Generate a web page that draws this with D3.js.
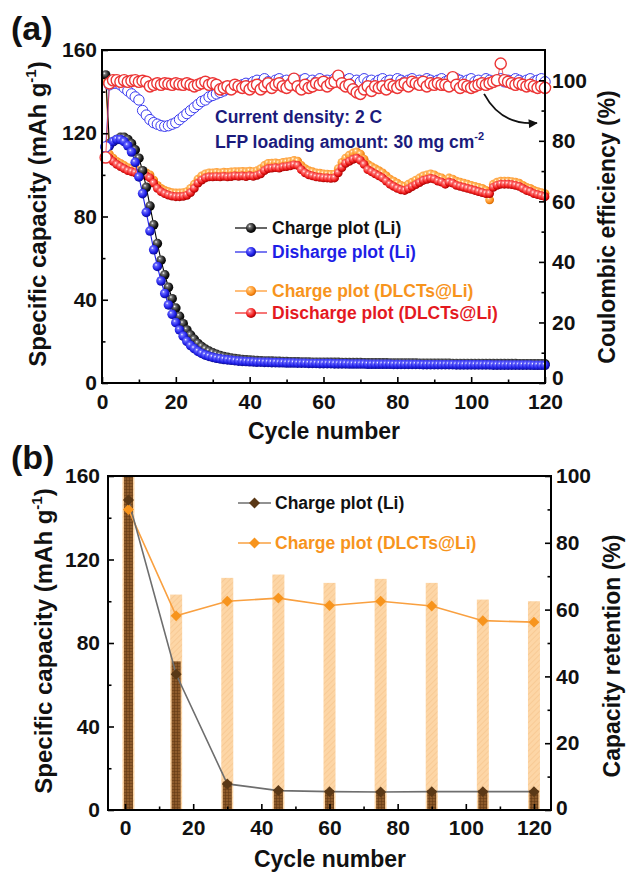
<!DOCTYPE html>
<html><head><meta charset="utf-8">
<script src="https://cdn.jsdelivr.net/npm/d3@7"></script>
<style>
html,body{margin:0;padding:0;background:#fff;}
svg{display:block;}
</style></head><body>
<svg id="chart" width="626" height="874"></svg>
<script>
// ---------------- DATA ----------------
const cycles = d3.range(1, 121);

const liCharge = [148,115,116,117,118,118,117,115,112,108,
102,94,85,76,67,59,52,46,40.5,36,
32,28.5,25.5,23,21,19,17.5,16.3,15.3,14.5,
13.8,13.2,12.7,12.3,12,11.7,11.5,11.3,11.1,11,
10.9,10.8,10.7,10.6,10.5,10.5,10.4,10.4,10.3,10.3,
10.2,10.2,10.2,10.1,10.1,10.1,10,10,10,10,
9.9,9.9,9.9,9.9,9.8,9.8,9.8,9.8,9.8,9.8,
9.7,9.7,9.7,9.7,9.7,9.7,9.7,9.6,9.6,9.6,
9.6,9.6,9.6,9.6,9.6,9.5,9.5,9.5,9.5,9.5,
9.5,9.5,9.5,9.5,9.4,9.4,9.4,9.4,9.4,9.4,
9.4,9.4,9.4,9.3,9.3,9.3,9.3,9.3,9.3,9.3,
9.3,9.3,9.2,9.2,9.2,9.2,9.2,9.2,9.2,9.2];

const liDischarge = [113,114,116,117,117,116,114,111,106,99,
91,82,73,64,56,49,43,37.5,33,29,
25.5,22.5,20,18,16.5,15.2,14.2,13.4,12.8,12.3,
11.9,11.6,11.3,11.1,10.9,10.7,10.5,10.4,10.3,10.2,
10.1,10,10,9.9,9.9,9.8,9.8,9.7,9.7,9.6,
9.6,9.6,9.5,9.5,9.5,9.4,9.4,9.4,9.3,9.3,
9.3,9.3,9.2,9.2,9.2,9.2,9.1,9.1,9.1,9.1,
9.1,9,9,9,9,9,9,9,8.9,8.9,
8.9,8.9,8.9,8.9,8.9,8.9,8.8,8.8,8.8,8.8,
8.8,8.8,8.8,8.8,8.8,8.7,8.7,8.7,8.7,8.7,
8.7,8.7,8.7,8.7,8.7,8.6,8.6,8.6,8.6,8.6,
8.6,8.6,8.6,8.6,8.6,8.6,8.5,8.5,8.5,8.5];

const dlCharge = [145,110,108,106.5,105.5,104.5,103.5,103,102.5,102,
101.5,101,100,97.5,95,93.5,92.5,92,91.5,91.3,
91.3,91.5,92,93.5,95.5,98,99.5,100.5,101,101,
101.2,101,101.3,101.2,101.4,101.6,101.5,101.7,101.5,101.8,
101.6,102,103,104.5,105.5,105.6,105.8,105.5,106,106.2,
106.5,107,106.6,104.5,103,102,101.5,101,100.8,100.5,
100.4,100.2,100.4,103,106,108,109.5,110.5,111,110,
107.5,105,104,103,102,101,99.5,98,97,96,
95,94.5,95.5,96.5,97.5,98.5,99.5,100,100.5,100,
99,98.5,97.5,98.5,98,97,96.5,96,95.5,95,
94.5,94,93.5,92.5,88,95.5,96.5,97,97,97,
96.8,96.5,96,95,94,93.5,92.5,92,91.5,91];

const dlDischarge = [108,108,106.5,105,104,103,102,101.5,101,100.5,
100,99.5,98.5,96,93.5,92,91,90.3,89.8,89.5,
89.5,89.7,90.2,91.5,93.5,96,97.5,98.5,99,99,
99.2,99,99.3,99,99.2,99.5,99.3,99.5,99.2,99.6,
99.3,99.8,100.5,102,103,103.2,103.5,103.2,103.8,104,
104.3,104.8,104.5,102.5,101,100,99.5,99,98.8,98.6,
98.5,98.3,98.5,101,103.5,105.5,106.5,107.5,108,107,
105,102.5,101.5,100.5,99.5,98.5,97,95.5,94.5,93.5,
92.8,92.5,93.3,94.3,95.3,96.3,97.3,97.8,98.3,98,
97,96.5,95.5,96.5,96,95,94.5,94,93.5,93,
92.5,92,91.5,91,91,94,95,95.5,95.5,95.5,
95.3,95,94.5,93.5,92.5,92,91,90.5,90,89.5];

const ceLi = [78,98.5,99,99,98.5,97.5,96.5,95.5,94.5,93.5,
90,88.5,87,86,85.5,85,84.8,85,85.5,86,
87,88,89,90,91,92,93,93.5,94.5,95,
95.5,96,96.5,97,97.5,98,98,98.5,99,98.5,
99.5,100,99,100.5,99.5,99,100,100.5,99.5,100,
99,100.5,99.5,100,100.5,99,100,99.5,100.5,99.5,
100,99,100.5,100,99.5,100,100.5,99,100,99.5,
100.5,99.5,100,99,100,100.5,99.5,100,99,100.5,
100,99.5,100,100.5,99,100,99.5,100.5,100,99.5,
100,100.5,99.5,100,99,100.5,100,99.5,100,100.5,
99.5,100,99,100.5,100,99.5,100,100.5,99.5,100,
99,100.5,100,99.5,100,100.5,99.5,100,100.5,99.5];

const ceDl = [74.5,99,100,100,99.5,100,99.5,99.8,100,99.5,
99.8,99.5,98,98.5,99,98.5,99,98.8,98.5,99,
98.7,98.5,99,98.5,98,98.5,99,99.5,98.5,99,
98.5,97,97.5,98,97,98.5,98,97.5,98,97,
98,98.5,97,98,99,97.5,98.5,99,98,97.5,
98.5,100.5,98,97,98.5,97.5,98,99,98.5,99.5,
98,99,99.5,101.5,99,98,98.5,97,96,95.5,
97,98,96.5,98,97.5,98,97,98.5,98,97.5,
98.5,99,98,99.5,99,98.5,99.5,98,99,98.5,
99,98.5,98.5,98,101,98.5,97.5,98.5,98,97.5,
98,98.5,99,98.5,99,99.5,100,105.5,100,99.5,
99,98.5,99,98.5,98,98.5,98,97.5,98,97.5];

const xTicks = [0,20,40,60,80,100,120];
const yTicksA = [0,40,80,120,160];
const yRTicksA = [0,20,40,60,80,100];

const legendA = ["Charge plot (Li)", "Disharge plot (Li)", "Charge plot (DLCTs@Li)", "Discharge plot (DLCTs@Li)"];

// panel (b)
const bCycles = [1,15,30,45,60,75,90,105,120];
const bLiCharge = [148.5,65,12.5,9.3,8.8,8.6,8.8,8.8,8.8];
const bDlCharge = [144,93,100,101.5,98,100,97.7,90.7,90];
const bDlRetention = [100,64.5,69.5,70.5,68,69.2,68,63,62.5];
const bLiRetention = [100,44.5,8.5,6.3,6,5.8,6,6,6];
const yTicksB = [0,40,80,120,160];
const yRTicksB = [0,20,40,60,80,100];
const legendB = ["Charge plot (Li)", "Charge plot (DLCTs@Li)"];

// ---------------- DRAW ----------------
const FONT = "'Liberation Sans', Arial, Helvetica, sans-serif";
const svg = d3.select("#chart").attr("font-family", FONT).attr("font-weight", "bold");
const defs = svg.append("defs");

function sphereGrad(id, light, mid, dark) {
  const g = defs.append("radialGradient").attr("id", id)
    .attr("cx", "40%").attr("cy", "38%").attr("r", "62%").attr("fx", "36%").attr("fy", "32%");
  g.append("stop").attr("offset", "0%").attr("stop-color", "#ffffff");
  g.append("stop").attr("offset", "22%").attr("stop-color", light);
  g.append("stop").attr("offset", "70%").attr("stop-color", mid);
  g.append("stop").attr("offset", "100%").attr("stop-color", dark);
}
sphereGrad("gBlack", "#777", "#1a1a1a", "#000");
sphereGrad("gBlue", "#6a6aff", "#1f1fe8", "#0a0a8a");
sphereGrad("gOrange", "#ffc070", "#ff9322", "#d66a00");
sphereGrad("gRed", "#ff8080", "#f01c1c", "#a80000");

// hatch patterns for panel (b)
const pp = defs.append("pattern").attr("id", "hPeach").attr("patternUnits", "userSpaceOnUse")
  .attr("width", 4).attr("height", 4).attr("patternTransform", "rotate(45)");
pp.append("rect").attr("width", 4).attr("height", 4).attr("fill", "#fdd6a6");
pp.append("line").attr("x1", 0).attr("y1", 0).attr("x2", 0).attr("y2", 4).attr("stroke", "#f5c28a").attr("stroke-width", 1.2);
const pd = defs.append("pattern").attr("id", "hDark").attr("patternUnits", "userSpaceOnUse")
  .attr("width", 3).attr("height", 3);
pd.append("rect").attr("width", 3).attr("height", 3).attr("fill", "#8d5a2a");
pd.append("path").attr("d", "M0,0H3M0,0V3").attr("stroke", "#5e3512").attr("stroke-width", 1);

defs.append("marker").attr("id", "arrowHead").attr("viewBox", "0 0 10 10")
  .attr("refX", 9).attr("refY", 5).attr("markerWidth", 11).attr("markerHeight", 9)
  .attr("markerUnits", "userSpaceOnUse").attr("orient", "auto")
  .append("path").attr("d", "M0,0L10,5L0,10Z").attr("fill", "#111");

function styleAxis(a, fs) {
  a.select(".domain").remove();
  a.attr("font-family", FONT).attr("font-size", fs).attr("font-weight", "bold");
  a.selectAll(".tick line").attr("stroke", "#000").attr("stroke-width", 1.6);
  a.selectAll(".tick text").attr("fill", "#111");
  return a;
}

function frameAndAxes(g, box, x, yL, yR, o) {
  const fs = 21;
  styleAxis(g.append("g").attr("transform", `translate(0,${box.b})`)
    .call(d3.axisBottom(x).tickValues(o.xMajor).tickSize(-6).tickPadding(o.padX).tickFormat(d3.format("d"))), fs);
  styleAxis(g.append("g").attr("transform", `translate(0,${box.b})`)
    .call(d3.axisBottom(x).tickValues(o.xMinor).tickSize(-3.5).tickFormat("")), fs);
  styleAxis(g.append("g").attr("transform", `translate(${box.l},0)`)
    .call(d3.axisLeft(yL).tickValues(o.yMajor).tickSize(-6).tickPadding(o.padL).tickFormat(d3.format("d"))), fs);
  styleAxis(g.append("g").attr("transform", `translate(${box.l},0)`)
    .call(d3.axisLeft(yL).tickValues(o.yMinor).tickSize(-3.5).tickFormat("")), fs);
  const ra = styleAxis(g.append("g").attr("transform", `translate(${box.r},0)`)
    .call(d3.axisRight(yR).tickValues(o.yRMajor).tickSize(-6).tickPadding(o.padR).tickFormat(d3.format("d"))), fs);
  // the bottom "0" of the right axis sits just above the last x label
  ra.selectAll(".tick text").filter(d => d === 0).attr("dy", o.zeroDy);
  styleAxis(g.append("g").attr("transform", `translate(${box.r},0)`)
    .call(d3.axisRight(yR).tickValues(o.yRMinor).tickSize(-3.5).tickFormat("")), fs);
  g.append("rect").attr("x", box.l).attr("y", box.t).attr("width", box.r - box.l).attr("height", box.b - box.t)
    .attr("fill", "none").attr("stroke", "#000").attr("stroke-width", 2);
}

function yTitle(g, x, y, fs, parts) {
  const t = g.append("text").attr("transform", `translate(${x},${y}) rotate(-90)`)
    .attr("text-anchor", "middle").attr("font-size", fs).attr("fill", "#111");
  parts(t);
}
const capTitle = t => {
  t.append("tspan").text("Specific capacity (mAh g");
  t.append("tspan").attr("dy", -10).attr("font-size", 15).text("-1");
  t.append("tspan").attr("dy", 10).text(")");
};

// ======== Panel (a) ========
const A = {l: 102, r: 545, t: 50, b: 383};
const xA = d3.scaleLinear().domain([0, 120]).range([A.l, A.r]);
const yA = d3.scaleLinear().domain([0, 160]).range([A.b, A.t]);
const yAR = d3.scaleLinear().domain([0, 110]).range([A.b, A.t]);
const gA = svg.append("g");

const pts = arr => arr.map((v, i) => ({c: cycles[i], v}));
const lineA = d3.line().x(d => xA(d.c)).y(d => yA(d.v));
const lineAR = d3.line().x(d => xA(d.c)).y(d => yAR(d.v));

function sphereSeries(data, lineColor, grad, r) {
  const p = pts(data);
  gA.append("path").attr("d", lineA(p)).attr("fill", "none").attr("stroke", lineColor).attr("stroke-width", 1.1);
  gA.append("g").selectAll("circle").data(p).join("circle")
    .attr("cx", d => xA(d.c)).attr("cy", d => yA(d.v)).attr("r", r).attr("fill", `url(#${grad})`);
}
sphereSeries(dlCharge, "#ff9322", "gOrange", 4.4);
sphereSeries(dlDischarge, "#f01c1c", "gRed", 4.4);
sphereSeries(liCharge, "#000", "gBlack", 4.8);
sphereSeries(liDischarge, "#1f1fe8", "gBlue", 4.8);

function ceSeries(data, color, r, sw) {
  const p = pts(data);
  gA.append("path").attr("d", lineAR(p)).attr("fill", "none").attr("stroke", color).attr("stroke-width", 0.8);
  gA.append("g").selectAll("circle").data(p).join("circle")
    .attr("cx", d => xA(d.c)).attr("cy", d => yAR(d.v)).attr("r", r)
    .attr("fill", "#fff").attr("stroke", color).attr("stroke-width", sw);
}
ceSeries(ceLi, "#3a3af0", 5.2, 1);
ceSeries(ceDl, "#ec3535", 5.6, 1.4);

frameAndAxes(gA, A, xA, yA, yAR, {
  xMajor: xTicks, xMinor: [10,30,50,70,90,110], padX: 11,
  yMajor: yTicksA, yMinor: [20,60,100,140], padL: 5,
  yRMajor: yRTicksA, yRMinor: [10,30,50,70,90], padR: 7, zeroDy: "0.05em"
});

// annotation
const navy = "#1b1b7c";
gA.append("text").attr("x", 215).attr("y", 123).attr("font-size", 17.5).attr("fill", navy).text("Current density: 2 C");
const ann2 = gA.append("text").attr("x", 215).attr("y", 148).attr("font-size", 17.5).attr("fill", navy);
ann2.append("tspan").text("LFP loading amount: 30 mg cm");
ann2.append("tspan").attr("dy", -8).attr("font-size", 11).text("-2");

const arrowPath = d3.path();
arrowPath.moveTo(xA(103.5), yAR(95.5));
arrowPath.quadraticCurveTo(xA(108.2), yAR(84.9), xA(117.8), yAR(85.9));
gA.append("path").attr("d", arrowPath.toString()).attr("fill", "none").attr("stroke", "#111")
  .attr("stroke-width", 1.8).attr("marker-end", "url(#arrowHead)");

// legend (a)
const legAColors = ["#111", "#1e1ee6", "#f7941d", "#e4191f"];
const legALine = ["#000", "#1f1fe8", "#ff9322", "#f01c1c"];
const legAGrad = ["gBlack", "gBlue", "gOrange", "gRed"];
const legAY = [228, 252, 291, 313];
legendA.forEach((lab, i) => {
  const y = legAY[i];
  gA.append("line").attr("x1", 235).attr("x2", 267).attr("y1", y).attr("y2", y).attr("stroke", legALine[i]).attr("stroke-width", 1.2);
  gA.append("circle").attr("cx", 251).attr("cy", y).attr("r", 5).attr("fill", `url(#${legAGrad[i]})`);
  gA.append("text").attr("x", 272).attr("y", y).attr("dy", "0.36em").attr("font-size", 17.5).attr("fill", legAColors[i]).text(lab);
});

// titles (a)
svg.append("text").attr("x", 11).attr("y", 40).attr("font-size", 34).attr("fill", "#111").text("(a)");
yTitle(gA, 46, 214, 24, capTitle);
yTitle(gA, 615, 227, 23, t => t.text("Coulombic efficiency (%)"));
gA.append("text").attr("x", 324).attr("y", 439).attr("text-anchor", "middle").attr("font-size", 23).attr("fill", "#111").text("Cycle number");

// ======== Panel (b) ========
const B = {l: 108, r: 551, t: 476, b: 810};
const xB = d3.scaleLinear().domain([-5, 125]).range([B.l, B.r]);
const yB = d3.scaleLinear().domain([0, 160]).range([B.b, B.t]);
const yBR = d3.scaleLinear().domain([0, 100]).range([B.b, B.t]);
const gB = svg.append("g");

const bDl = bCycles.map((c, i) => ({c, v: bDlCharge[i], r: bDlRetention[i]}));
const bLi = bCycles.map((c, i) => ({c, v: bLiCharge[i], r: bLiRetention[i]}));

gB.append("g").selectAll("rect").data(bDl).join("rect")
  .attr("x", d => xB(d.c) - 6).attr("width", 12)
  .attr("y", d => yBR(d.r)).attr("height", d => yBR(0) - yBR(d.r)).attr("fill", "url(#hPeach)");
gB.append("g").selectAll("rect").data(bLi).join("rect")
  .attr("x", d => xB(d.c) - 4.5).attr("width", 9)
  .attr("y", d => yBR(d.r)).attr("height", d => yBR(0) - yBR(d.r)).attr("fill", "url(#hDark)");

const lineB = d3.line().x(d => xB(d.c)).y(d => yB(d.v));
gB.append("path").attr("d", lineB(bDl)).attr("fill", "none").attr("stroke", "#f9a040").attr("stroke-width", 1.6);
gB.append("path").attr("d", lineB(bLi)).attr("fill", "none").attr("stroke", "#6e6e6e").attr("stroke-width", 1.6);

const diamond = d3.symbol().type(d3.symbolSquare).size(60);
gB.append("g").selectAll("path").data(bDl).join("path")
  .attr("transform", d => `translate(${xB(d.c)},${yB(d.v)}) rotate(45)`).attr("d", diamond).attr("fill", "#f7941d");
gB.append("g").selectAll("path").data(bLi).join("path")
  .attr("transform", d => `translate(${xB(d.c)},${yB(d.v)}) rotate(45)`).attr("d", diamond).attr("fill", "#5a3816");

frameAndAxes(gB, B, xB, yB, yBR, {
  xMajor: xTicks, xMinor: [10,30,50,70,90,110], padX: 10,
  yMajor: yTicksB, yMinor: [20,60,100,140], padL: 8,
  yRMajor: yRTicksB, yRMinor: [10,30,50,70,90], padR: 5, zeroDy: "0.2em"
});

// legend (b)
const legBText = ["#111", "#f7941d"];
const legBLine = ["#6e6e6e", "#f9a040"];
const legBMark = ["#5a3816", "#f7941d"];
const legBY = [503, 543];
legendB.forEach((lab, i) => {
  const y = legBY[i];
  gB.append("line").attr("x1", 238).attr("x2", 271).attr("y1", y).attr("y2", y).attr("stroke", legBLine[i]).attr("stroke-width", 1.6);
  gB.append("path").attr("transform", `translate(254.5,${y}) rotate(45)`).attr("d", diamond).attr("fill", legBMark[i]);
  gB.append("text").attr("x", 275).attr("y", y).attr("dy", "0.36em").attr("font-size", 17.5).attr("fill", legBText[i]).text(lab);
});

svg.append("text").attr("x", 11).attr("y", 469).attr("font-size", 34).attr("fill", "#111").text("(b)");
yTitle(gB, 52, 641, 24, capTitle);
yTitle(gB, 620, 656, 23, t => t.text("Capacity retention (%)"));
gB.append("text").attr("x", 330).attr("y", 867).attr("text-anchor", "middle").attr("font-size", 23).attr("fill", "#111").text("Cycle number");
</script>
</body></html>
